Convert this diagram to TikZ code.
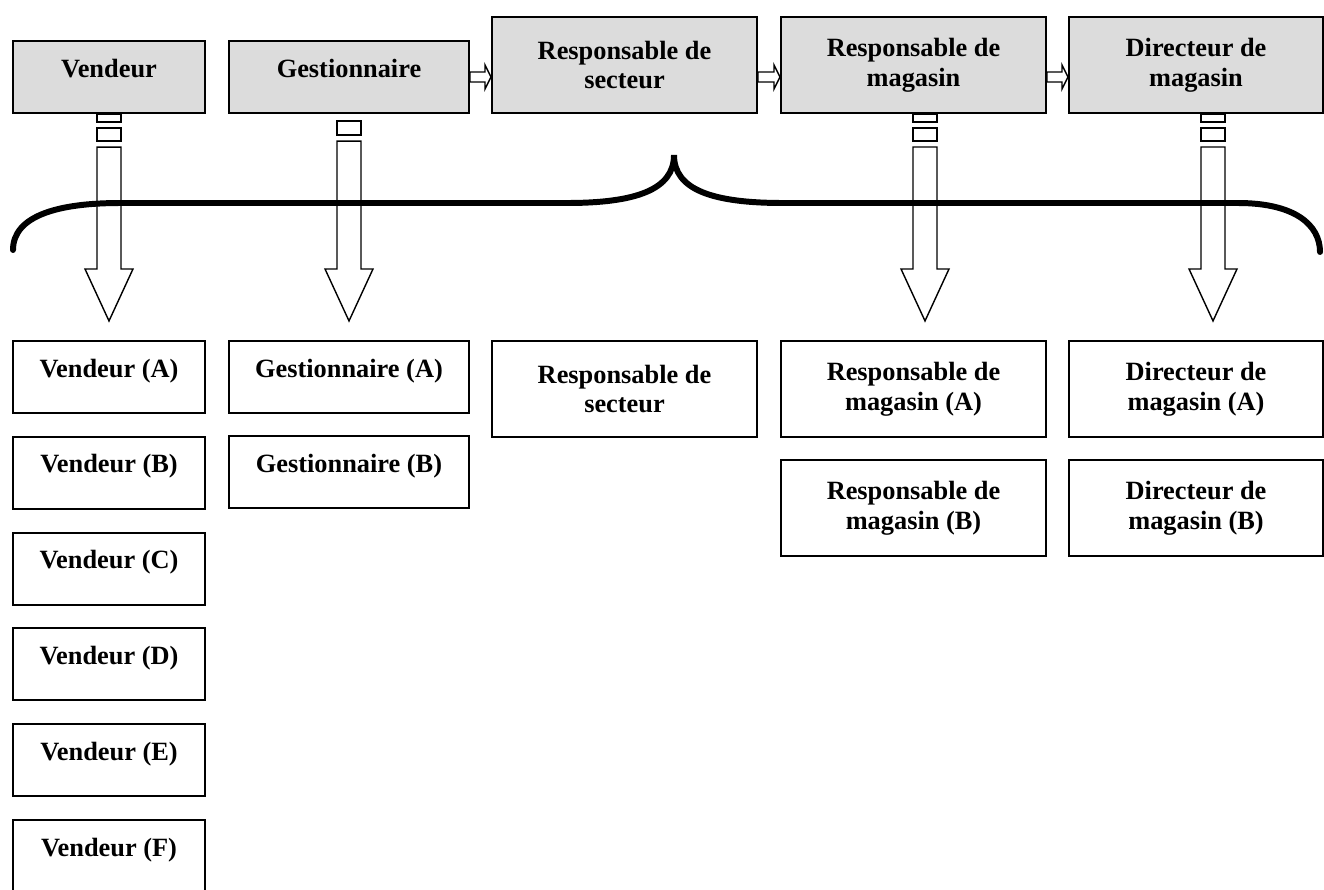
\documentclass[tikz,border=0pt]{standalone}
\usepackage{fontspec}
\setmainfont{Liberation Serif}
\usepackage{tikz}
\usetikzlibrary{calc,positioning,arrows.meta}
\definecolor{boxgray}{RGB}{220,220,220}
\tikzset{
  poste/.style={draw, line width=1.2pt, align=center, inner sep=2pt, font=\fontsize{15}{17}\selectfont\bfseries},
  uneligne/.style={poste, minimum height=1.44cm, text height=0.3cm, text depth=0.3cm},
  deuxlignes/.style={poste, minimum height=1.92cm},
  chef/.style={fill=boxgray},
  blockarrow/.style={draw, fill=white, line width=0.8pt, line join=miter},
  accolade/.style={line width=3.4pt, line cap=round}
}
\newcommand{\downblock}[4]{%
  \draw[blockarrow] ($(#1.south)+(#3-12,#4)$) -- ($(#2.north)+(#3-12,-71)$) -- ($(#2.north)+(#3-24,-71)$) -- ($(#2.north)+(#3,-19)$) -- ($(#2.north)+(#3+24,-71)$) -- ($(#2.north)+(#3+12,-71)$) -- ($(#1.south)+(#3+12,#4)$) -- cycle;}
\newcommand{\sidearrow}[2]{%
  \draw[blockarrow] ($(#1.east |- gest.east)+(0,-5)$) -- ($(#2.west |- gest.east)+(-6,-5)$) -- ($(#2.west |- gest.east)+(-6,-12)$) -- (#2.west |- gest.east) -- ($(#2.west |- gest.east)+(-6,12)$) -- ($(#2.west |- gest.east)+(-6,5)$) -- ($(#1.east |- gest.east)+(0,5)$) -- cycle;}

\begin{document}
\begin{tikzpicture}[x=0.02cm, y=-0.02cm]
\useasboundingbox (0,0) rectangle (1324,889);
\clip (0,0) rectangle (1324,889);
\node[uneligne, chef, minimum width=3.84cm] (vend) at (109,77) {Vendeur};
\node[uneligne, chef, minimum width=4.8cm] (gest) at (349,77) {Gestionnaire};
\node[deuxlignes, chef, minimum width=5.3cm] (sect) at (624.5,65) {Responsable de\\secteur};
\node[deuxlignes, chef, minimum width=5.3cm] (mag) at (913.5,65) {Responsable de\\magasin};
\node[deuxlignes, chef, minimum width=5.08cm] (dir) at (1196,65) {Directeur de\\magasin};

\foreach \l [count=\i from 0] in {A,...,F}
  \node[uneligne, minimum width=3.84cm] (vend\l) at (109,377+95.8*\i) {Vendeur (\l)};
\node[uneligne, minimum width=4.8cm] (gestA) at (349,377) {Gestionnaire (A)};
\node[uneligne, minimum width=4.8cm] (gestB) at (349,472) {Gestionnaire (B)};
\node[deuxlignes, minimum width=5.3cm] (sectbas) at (624.5,389) {Responsable de\\secteur};
\node[deuxlignes, minimum width=5.3cm] (magA) at (913.5,389) {Responsable de\\magasin (A)};
\node[deuxlignes, minimum width=5.3cm] (magB) at (913.5,508) {Responsable de\\magasin (B)};
\node[deuxlignes, minimum width=5.08cm] (dirA) at (1196,389) {Directeur de\\magasin (A)};
\node[deuxlignes, minimum width=5.08cm] (dirB) at (1196,508) {Directeur de\\magasin (B)};

\foreach \n/\s in {vend/0, mag/11.5, dir/17} {
  \draw[blockarrow] ($(\n.south)+(\s-12,0)$) rectangle ($(\n.south)+(\s+12,8)$);
  \draw[blockarrow] ($(\n.south)+(\s-12,14)$) rectangle ($(\n.south)+(\s+12,27)$);
}
\draw[blockarrow] ($(gest.south)+(-12,7)$) rectangle ($(gest.south)+(12,21)$);
\downblock{vend}{vendA}{0}{33}
\downblock{gest}{gestA}{0}{27}
\downblock{mag}{magA}{11.5}{33}
\downblock{dir}{dirA}{17}{33}

\sidearrow{gest}{sect}
\sidearrow{sect}{mag}
\sidearrow{mag}{dir}

\draw[accolade] (13,250) .. controls (13,215) and (60,203) .. (120,203) -- (567,203) .. controls (635,203) and (674,190) .. (674,155) .. controls (674,190) and (713,203) .. (783,203) -- (1238,203) .. controls (1295,203) and (1320,225) .. (1320,252);
\end{tikzpicture}
\end{document}
